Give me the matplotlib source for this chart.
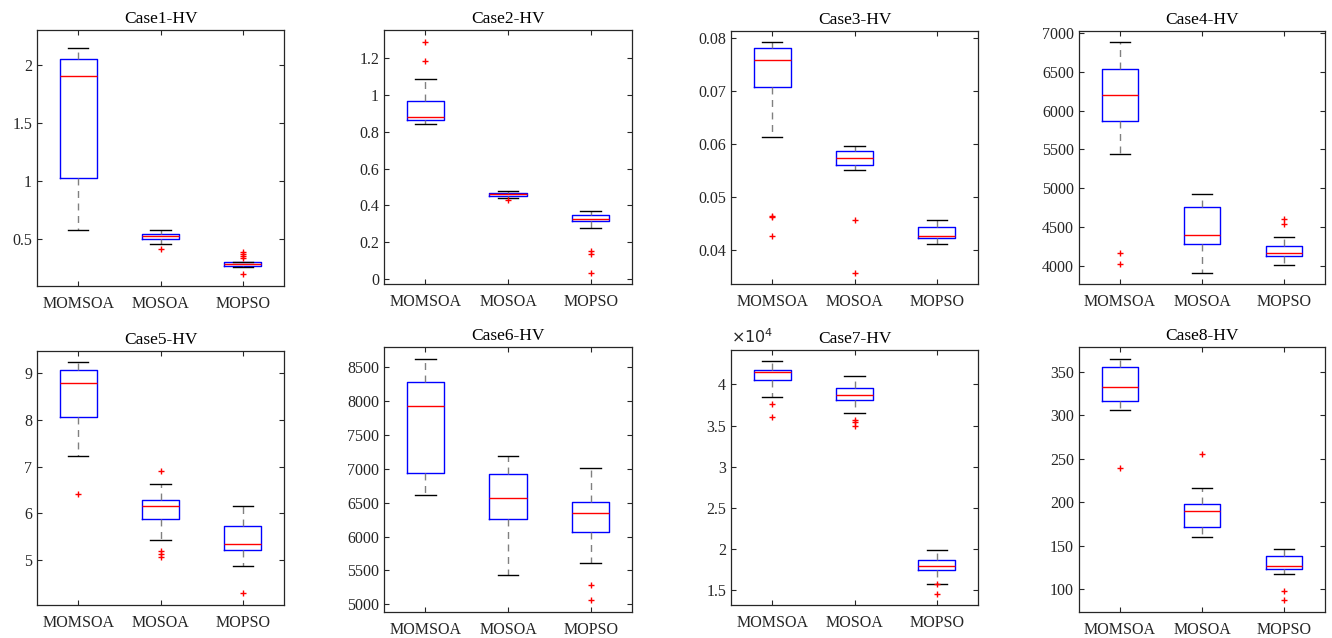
import numpy as np
import matplotlib
matplotlib.use("Agg")
import matplotlib.pyplot as plt
from matplotlib.ticker import MultipleLocator, FuncFormatter

plt.rcParams['font.family'] = ['Liberation Serif', 'DejaVu Serif']

algos = ['MOMSOA', 'MOSOA', 'MOPSO']

# five-number summaries: [whisker low, q1, median, q3, whisker high]
case1_box = [[0.583, 1.032, 1.908, 2.055, 2.149],
             [0.460, 0.500, 0.529, 0.549, 0.583],
             [0.262, 0.270, 0.287, 0.302, 0.307]]
case1_out = [[], [0.42], [0.394, 0.374, 0.356, 0.336, 0.198]]

case2_box = [[0.845, 0.865, 0.883, 0.970, 1.086],
             [0.442, 0.454, 0.460, 0.467, 0.476],
             [0.279, 0.315, 0.326, 0.349, 0.369]]
case2_out = [[1.289, 1.187], [0.431], [0.150, 0.138, 0.035]]

case3_box = [[0.0614, 0.0707, 0.0759, 0.0781, 0.0792],
             [0.0551, 0.0561, 0.0574, 0.0587, 0.0597],
             [0.0411, 0.0422, 0.0426, 0.0443, 0.0456]]
case3_out = [[0.0465, 0.0462, 0.0427], [0.0456, 0.0357], []]

case4_box = [[5444, 5860, 6207, 6537, 6880],
             [3910, 4279, 4394, 4759, 4930],
             [4009, 4120, 4159, 4257, 4377]]
case4_out = [[4159, 4017], [], [4604, 4536]]

case5_box = [[7.225, 8.055, 8.80, 9.072, 9.236],
             [5.415, 5.88, 6.16, 6.274, 6.617],
             [4.866, 5.21, 5.345, 5.716, 6.145]]
case5_out = [[6.417], [6.903, 5.19, 5.13, 5.06], [4.28]]

case6_box = [[6613, 6931, 7917, 8284, 8623],
             [5426, 6260, 6574, 6926, 7181],
             [5608, 6074, 6348, 6505, 7010]]
case6_out = [[], [], [5289, 5069]]

case7_box = [[38460, 40490, 41500, 41820, 42840],
             [36520, 38060, 38700, 39590, 41010],
             [15730, 17430, 17880, 18570, 19780]]
case7_out = [[37650, 36030], [35710, 35380, 34900], [15650, 14520]]

case8_box = [[306.0, 316.7, 332.0, 355.7, 364.9],
             [160.0, 171.1, 190.2, 198.3, 216.6],
             [117.6, 122.9, 126.0, 137.5, 145.5]]
case8_out = [[239.5], [254.8], [97.3, 87.8]]

boxes = [case1_box, case2_box, case3_box, case4_box,
         case5_box, case6_box, case7_box, case8_box]
outliers = [case1_out, case2_out, case3_out, case4_out,
            case5_out, case6_out, case7_out, case8_out]
titles = ['Case%d-HV' % i for i in range(1, 9)]

# axes frames in pixels (left, top, right, bottom), y limits and tick steps
frames = [(37, 30, 284, 286), (384, 30, 632, 284), (731, 31, 978, 284), (1079, 31, 1325, 284),
          (37, 351, 284, 605), (384, 347, 632, 612), (731, 350, 978, 605), (1079, 347, 1325, 612)]
ylims = [(0.097, 2.304), (-0.027, 1.354), (0.0336, 0.08132), (3765, 7026),
         (4.03, 9.48), (4888, 8794), (13140, 44200), (73.6, 378.2)]
steps = [0.5, 0.2, 0.01, 500, 1, 500, 5000, 50]

W, H = 1332, 638
fig = plt.figure(figsize=(W / 100, H / 100), dpi=100)

for k in range(8):
    l, t, r, b = frames[k]
    ax = fig.add_axes([l / W, 1 - b / H, (r - l) / W, (b - t) / H])
    stats = []
    for j in range(3):
        lo, q1, med, q3, hi = boxes[k][j]
        stats.append(dict(whislo=lo, q1=q1, med=med, q3=q3, whishi=hi,
                          fliers=outliers[k][j], label=algos[j]))
    ax.bxp(stats, positions=[1, 2, 3], widths=0.45, capwidths=0.25,
           boxprops=dict(color='blue', linewidth=1.0),
           medianprops=dict(color='red', linewidth=1.0),
           whiskerprops=dict(color='0.5', linewidth=1.0, linestyle=(0, (5, 4))),
           capprops=dict(color='black', linewidth=1.0),
           flierprops=dict(marker='+', markeredgecolor='red', markersize=5,
                           markeredgewidth=1.0, linestyle='none'))
    ax.set_xlim(0.5, 3.5)
    ax.set_ylim(*ylims[k])
    ax.yaxis.set_major_locator(MultipleLocator(steps[k]))
    if k == 6:
        ax.yaxis.set_major_formatter(FuncFormatter(lambda v, p: '%g' % round(v / 1e4, 6)))
        ax.text(0.0, 1.01, r'$\times10^{4}$', transform=ax.transAxes,
                fontsize=11.5, color='0.15', ha='left', va='bottom')
    else:
        ax.yaxis.set_major_formatter(FuncFormatter(lambda v, p: '%g' % round(v, 6)))
    ax.tick_params(direction='in', length=3.5, width=0.8, top=True, right=True,
                   labelsize=11.5, labelcolor='0.15', color='0.15')
    ax.tick_params(axis='x', pad=7)
    for s in ax.spines.values():
        s.set_linewidth(0.9)
        s.set_color('0.15')
    ax.set_title(titles[k], fontsize=12.5, pad=5)

fig.savefig('out.png', dpi=100)
